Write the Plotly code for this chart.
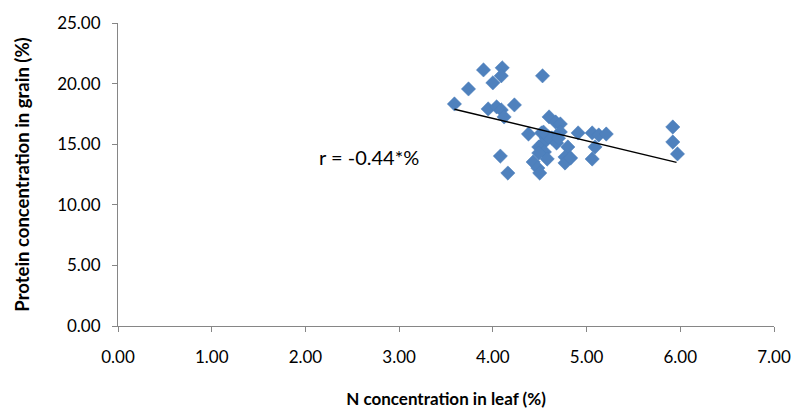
import plotly.graph_objects as go

n_leaf = [3.59, 3.74, 3.90, 4.10, 4.09, 4.00, 4.53, 3.95, 4.04, 4.09, 4.12, 4.23,
          4.08, 4.16, 4.38, 4.52, 4.57, 4.54, 4.49, 4.55, 4.43, 4.49, 4.48, 4.50,
          4.58, 4.60, 4.67, 4.72, 4.63, 4.72, 4.68, 4.91, 4.80, 4.77, 4.77, 4.83,
          5.06, 5.13, 5.21, 5.09, 5.06, 5.92, 5.92, 5.97, 4.59, 4.54, 4.70]
protein = [18.32, 19.56, 21.13, 21.30, 20.64, 20.06, 20.64, 17.91, 18.08, 17.83, 17.25, 18.24,
           14.02, 12.62, 15.84, 15.93, 15.51, 15.10, 14.77, 14.36, 13.53, 14.27, 13.03, 12.62,
           13.78, 17.25, 16.83, 16.67, 15.51, 16.01, 15.10, 15.93, 14.77, 13.94, 13.45, 13.86,
           15.93, 15.76, 15.84, 14.77, 13.78, 16.42, 15.18, 14.20, 15.60, 16.00, 15.50]

trend_x = [3.59, 5.96]
trend_y = [17.88, 13.50]

x_ticks = [0, 1, 2, 3, 4, 5, 6, 7]
y_ticks = [0, 5, 10, 15, 20, 25]
annotation_text = "r = -0.44*%"

FONT = "Lato"
AXIS_COLOR = "#868686"

fig = go.Figure()
fig.add_trace(go.Scatter(
    x=n_leaf, y=protein, mode="markers",
    marker=dict(symbol="diamond", size=11, color="#4F81BD",
                line=dict(width=0.5, color="#4A7EBB")),
    showlegend=False, hoverinfo="x+y"))
fig.add_trace(go.Scatter(
    x=trend_x, y=trend_y, mode="lines",
    line=dict(color="black", width=1.5), showlegend=False, hoverinfo="skip"))

fig.add_annotation(x=2.12, y=13.94, xref="x", yref="y", text=annotation_text,
                   showarrow=False, xanchor="left", yanchor="middle",
                   font=dict(family=FONT, size=20, color="black"))

fig.update_layout(
    width=793, height=410,
    margin=dict(l=118, r=19, t=23, b=84),
    paper_bgcolor="white", plot_bgcolor="white",
    font=dict(family=FONT, size=17, color="black"),
    xaxis=dict(range=[0, 7], tickvals=x_ticks, tickformat=".2f", automargin=False,
               showgrid=False, zeroline=False, showline=True, linecolor=AXIS_COLOR,
               linewidth=1, ticks="outside", ticklen=5, tickcolor=AXIS_COLOR,
               ticklabelstandoff=11,
               title=dict(text="<b>N concentration in leaf (%)</b>", standoff=26,
                          font=dict(family=FONT, size=17))),
    yaxis=dict(range=[0, 25], tickvals=y_ticks, tickformat=".2f", automargin=False,
               showgrid=False, zeroline=False, showline=True, linecolor=AXIS_COLOR,
               linewidth=1, ticks="outside", ticklen=5, tickcolor=AXIS_COLOR,
               ticklabelstandoff=8,
               title=dict(text="<b>Protein concentration in grain (%)</b>", standoff=22,
                          font=dict(family=FONT, size=18.5))),
)

fig.write_html("out.html")
